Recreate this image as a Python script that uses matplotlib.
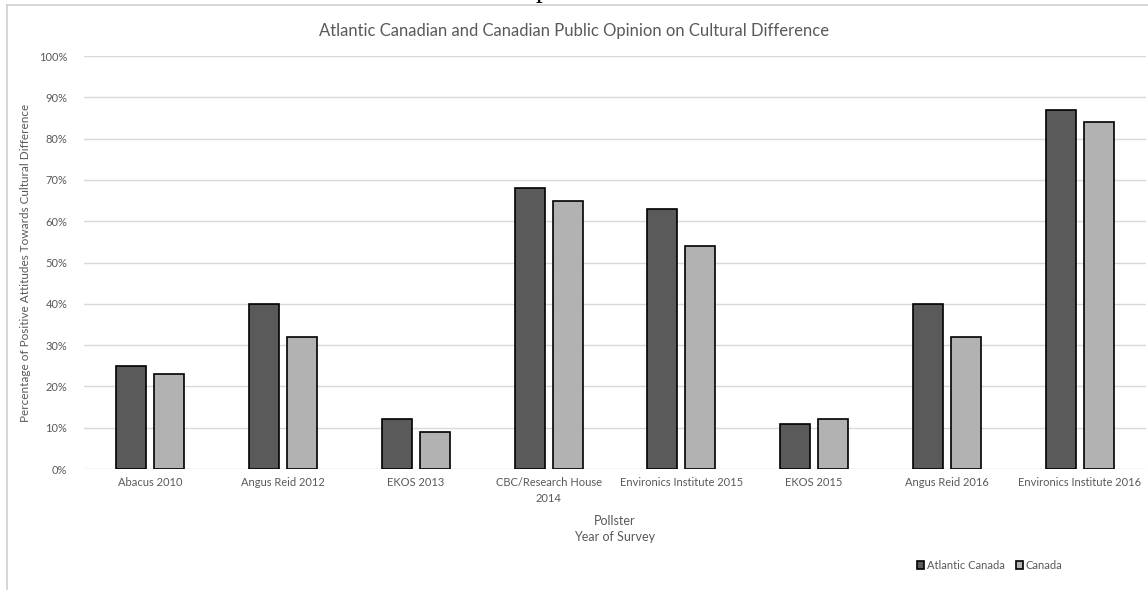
import numpy as np
import matplotlib.pyplot as plt
from matplotlib.lines import Line2D
from matplotlib.ticker import FuncFormatter

# ====== DATA ======
categories = ['Abacus 2010', 'Angus Reid 2012', 'EKOS 2013', 'CBC/Research House\n2014',
              'Environics Institute 2015', 'EKOS 2015', 'Angus Reid 2016', 'Environics Institute 2016']
atlantic = [25, 40, 12, 68, 63, 11, 40, 87]
canada = [23, 32, 9, 65, 54, 12, 32, 84]
series_names = ['Atlantic Canada', 'Canada']

# ====== STYLE ======
plt.rcParams['font.family'] = ['Lato', 'DejaVu Sans']
txt = '#595959'
dark = '#5a5a5a'
light = '#b2b2b2'

fig = plt.figure(figsize=(11.48, 5.90), dpi=100)
ax = fig.add_axes([0.0732, 0.205, 0.925, 0.700])

x = np.arange(len(categories))
w = 0.226
gap = 0.03
ax.bar(x - w/2 - gap, atlantic, w, color=dark, edgecolor='black', linewidth=1.2, label=series_names[0], zorder=3)
ax.bar(x + w/2 + gap, canada, w, color=light, edgecolor='black', linewidth=1.2, label=series_names[1], zorder=3)

ax.set_xlim(-0.5, len(categories) - 0.5)
ax.set_ylim(0, 100)
ax.set_yticks(np.arange(0, 101, 10))
ax.yaxis.set_major_formatter(FuncFormatter(lambda v, p: f'{int(v)}%'))
ax.grid(axis='y', color='#d9d9d9', linewidth=1, zorder=0)
for s in ax.spines.values():
    s.set_visible(False)
ax.tick_params(length=0, colors=txt, labelsize=8)
ax.tick_params(axis='y', pad=12)
ax.tick_params(axis='x', pad=6)
ax.set_xticks(x)
ax.set_xticklabels(categories, fontsize=8, color=txt, linespacing=1.5)

ax.set_ylabel('Percentage of Positive Attitudes Towards Cultural Difference', fontsize=8.5, color=txt, labelpad=6)
ax.set_xlabel('Pollster\nYear of Survey', fontsize=9, color=txt, labelpad=8, linespacing=1.4)
fig.text(0.5, 0.948, 'Atlantic Canadian and Canadian Public Opinion on Cultural Difference',
         ha='center', va='center', fontsize=12, color=txt)

leg = fig.legend(loc='center', bbox_to_anchor=(0.862, 0.042), ncol=2, frameon=False, fontsize=8,
                 handlelength=0.7, handleheight=0.7, handletextpad=0.2, columnspacing=1.0,
                 labelcolor=txt)

# frame border of the chart box (left and top edges)
top_y = 1 - 5/590
left_x = 7/1148
fig.add_artist(Line2D([left_x, left_x], [0, top_y], color='#cfcfcf', linewidth=1.2, transform=fig.transFigure))
fig.add_artist(Line2D([left_x, 1], [top_y, top_y], color='#cfcfcf', linewidth=1.2, transform=fig.transFigure))

# descender of a letter from the page text above the chart, cut by the image edge
fig.text(543/1148, 1 + 3/590, 'p', ha='center', va='baseline', fontsize=20, color='black',
         family='Liberation Serif')

fig.savefig('out.png', dpi=100)
